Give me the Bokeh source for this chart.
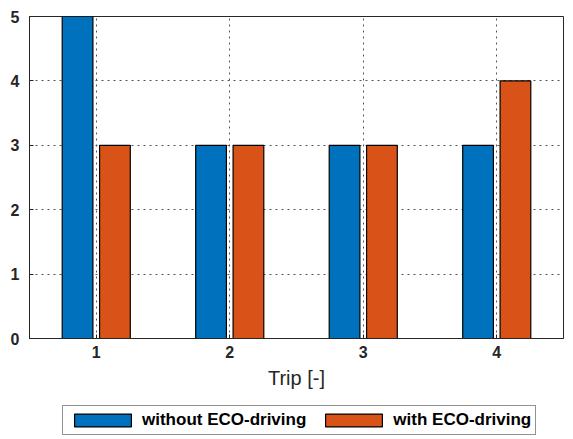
from bokeh.plotting import figure
from bokeh.layouts import column
from bokeh.models import Legend, LegendItem, FixedTicker, ColumnDataSource, Range1d
from bokeh.transform import dodge
from bokeh.embed import file_html
from bokeh.resources import INLINE

trips = [1, 2, 3, 4]
without_eco = [5, 3, 3, 3]
with_eco = [3, 3, 3, 4]
y_ticks = [0, 1, 2, 3, 4, 5]

series_labels = ["without ECO-driving", "with ECO-driving"]
colors = ["#0072BD", "#D95319"]

src = ColumnDataSource(dict(trip=trips, without=without_eco, with_=with_eco))

p = figure(width=565, height=391, output_backend="svg", toolbar_location=None,
           x_range=Range1d(0.5, 4.5), y_range=Range1d(0, 5),
           min_border_left=29, min_border_right=2, min_border_top=16, min_border_bottom=10)

r1 = p.vbar(x=dodge('trip', -0.14, range=p.x_range), top='without', width=0.23, source=src,
            fill_color=colors[0], line_color="black", line_width=1.2)
r2 = p.vbar(x=dodge('trip', 0.14, range=p.x_range), top='with_', width=0.23, source=src,
            fill_color=colors[1], line_color="black", line_width=1.2)

ink = "#262626"
p.outline_line_color = ink
p.outline_line_width = 1
p.background_fill_color = "white"
p.border_fill_color = "white"

p.xaxis.ticker = FixedTicker(ticks=trips)
p.yaxis.ticker = FixedTicker(ticks=y_ticks)
for ax in (p.xaxis[0], p.yaxis[0]):
    ax.axis_line_color = ink
    ax.major_tick_line_color = ink
    ax.major_tick_in = 4
    ax.major_tick_out = 0
    ax.minor_tick_line_color = None
    ax.major_label_text_font = "Liberation Sans"
    ax.major_label_text_font_style = "bold"
    ax.major_label_text_font_size = "16px"
    ax.major_label_text_color = ink
p.xaxis.major_label_standoff = 7
p.yaxis.major_label_standoff = 10

p.xaxis.axis_label = "Trip [-]"
p.xaxis.axis_label_text_font = "Liberation Sans"
p.xaxis.axis_label_text_font_style = "normal"
p.xaxis.axis_label_text_font_size = "20px"
p.xaxis.axis_label_text_color = ink
p.xaxis.axis_label_standoff = 6

p.xgrid.ticker = FixedTicker(ticks=trips)
p.ygrid.ticker = FixedTicker(ticks=[1, 2, 3, 4])
for g in (p.xgrid[0], p.ygrid[0]):
    g.grid_line_color = "#555555"
    g.grid_line_dash = "2 4"
    g.grid_line_width = 1

# legend strip below the chart (series renderers kept outside the visible range)
p2 = figure(width=565, height=46, output_backend="svg", toolbar_location=None,
            x_range=Range1d(10, 11), y_range=Range1d(10, 11),
            x_axis_type=None, y_axis_type=None,
            min_border=0, outline_line_color=None)
p2.grid.visible = False
l1 = p2.vbar(x='trip', top='without', width=0.23, source=src,
             fill_color=colors[0], line_color="black", line_width=1.2)
l2 = p2.vbar(x='trip', top='with_', width=0.23, source=src,
             fill_color=colors[1], line_color="black", line_width=1.2)

legend = Legend(items=[LegendItem(label=series_labels[0], renderers=[l1], index=0),
                       LegendItem(label=series_labels[1], renderers=[l2], index=0)],
                orientation="horizontal", location=(33, 2),
                glyph_width=71, glyph_height=16,
                label_text_font="Liberation Sans", label_text_font_style="bold",
                label_text_font_size="17px", label_text_color="black",
                border_line_color=ink, border_line_width=1,
                padding=4, spacing=12, margin=0, label_standoff=4)
p2.add_layout(legend, "center")

open("out.html", "w").write(file_html(column(p, p2), INLINE))
